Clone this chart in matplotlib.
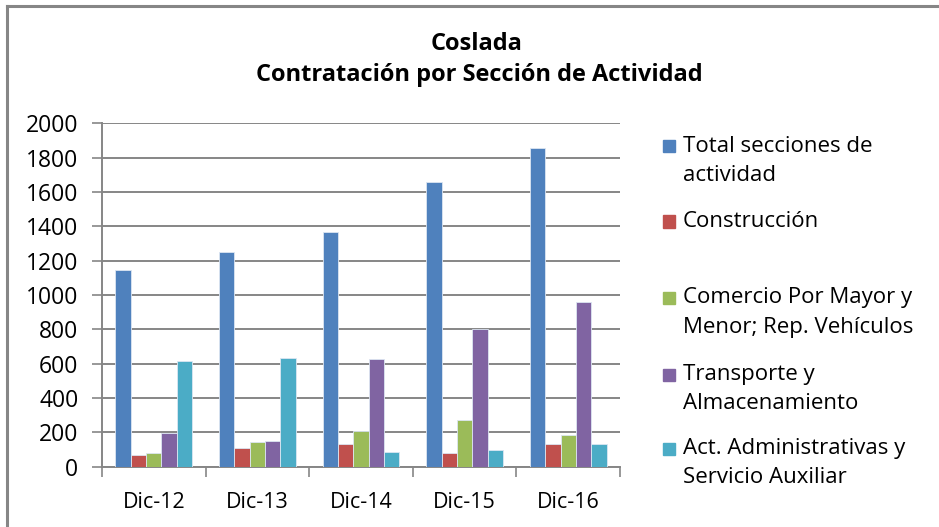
import matplotlib.pyplot as plt
import numpy as np
from matplotlib.patches import Rectangle
from matplotlib.lines import Line2D

plt.rcParams['font.family'] = ['Open Sans', 'DejaVu Sans']

# datos
periodos = ['Dic-12', 'Dic-13', 'Dic-14', 'Dic-15', 'Dic-16']
series = ['Total secciones de\nactividad', 'Construcción',
          'Comercio Por Mayor y\nMenor; Rep. Vehículos',
          'Transporte y\nAlmacenamiento',
          'Act. Administrativas y\nServicio Auxiliar']
total = [1145, 1250, 1367, 1656, 1856]
construccion = [66, 109, 132, 82, 132]
comercio = [82, 144, 206, 270, 186]
transporte = [195, 151, 625, 800, 961]
administrativas = [614, 633, 87, 95, 132]
yticks = [0, 200, 400, 600, 800, 1000, 1200, 1400, 1600, 1800, 2000]

colores = ['#4F81BD', '#C0504D', '#9BBB59', '#8064A2', '#4BACC6']
gris = '#868686'

W, H = 939, 527
fig = plt.figure(figsize=(W / 100, H / 100), dpi=100)
ax = fig.add_axes([102 / W, 1 - 466.7 / H, (620 - 102) / W, (466.7 - 123.3) / H])

x = np.arange(len(periodos))
ancho = 0.148
valores = [total, construccion, comercio, transporte, administrativas]
for i, (vals, col) in enumerate(zip(valores, colores)):
    ax.bar(x + (i - 2) * ancho, vals, ancho, color=col, edgecolor='#dce6f2',
           linewidth=0.6, zorder=3)

ax.set_xlim(-0.5, len(periodos) - 0.5)
ax.set_ylim(0, 2000)
ax.set_yticks(yticks)
ax.set_yticklabels([str(v) for v in yticks])
ax.set_xticks(x)
ax.set_xticklabels(periodos)
ax.set_xticks(np.arange(len(periodos) + 1) - 0.5, minor=True)
ax.tick_params(axis='x', which='major', length=0, pad=18, labelsize=15.5)
ax.tick_params(axis='x', which='minor', length=7, width=1.2, color=gris, direction='out')
ax.tick_params(axis='y', length=7, width=1.2, color=gris, pad=10, labelsize=16.5)
ax.yaxis.grid(True, color=gris, linewidth=1.4, zorder=0)
ax.set_axisbelow(True)
for s in ['top', 'right']:
    ax.spines[s].set_visible(False)
for s in ['left', 'bottom']:
    ax.spines[s].set_color(gris)
    ax.spines[s].set_linewidth(1.4)

# titulo
fig.text(477 / W, 1 - 44 / H, 'Coslada', ha='center', va='center',
         fontsize=17, fontweight='bold')
fig.text(479 / W, 1 - 75 / H, 'Contratación por Sección de Actividad',
         ha='center', va='center', fontsize=17, fontweight='bold')

# leyenda
ley_y = [146.5, 221.5, 298, 374.5, 448.5]
for nombre, col, yc in zip(series, colores, ley_y):
    fig.add_artist(Rectangle((663 / W, 1 - (yc + 6) / H), 12 / W, 12 / H,
                             transform=fig.transFigure, color=col))
    for k, linea in enumerate(nombre.split('\n')):
        fig.text(683 / W, 1 - (yc + k * 29) / H, linea, ha='left', va='center',
                 fontsize=16)

# marco
fig.add_artist(Line2D([6.5 / W, 6.5 / W], [0, 1 - 6 / H], color=gris, linewidth=2.2,
                      transform=fig.transFigure))
fig.add_artist(Line2D([6.5 / W, 1], [1 - 6 / H, 1 - 6 / H], color=gris, linewidth=2.2,
                      transform=fig.transFigure))

fig.savefig('out.png', dpi=100)
